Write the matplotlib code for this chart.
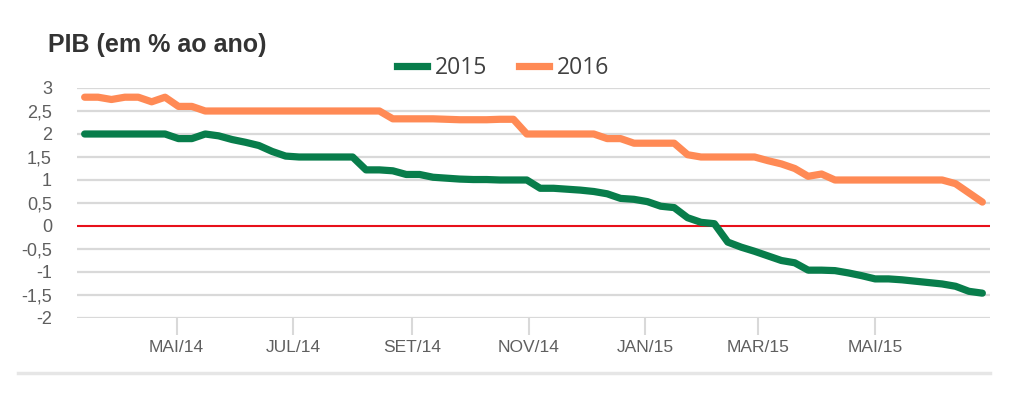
import matplotlib
matplotlib.use("Agg")
import matplotlib.pyplot as plt
import matplotlib.dates as mdates
import numpy as np
import pandas as pd
from matplotlib.lines import Line2D

# ---- data (weekly survey readings) ----
start_date = "2014-03-14"
gdp_2015 = [2.0, 2.0, 2.0, 2.0, 2.0, 2.0, 2.0, 1.9, 1.9, 2.0,
            1.96, 1.88, 1.82, 1.75, 1.62, 1.52, 1.5, 1.5, 1.5, 1.5,
            1.5, 1.22, 1.22, 1.2, 1.12, 1.12, 1.06, 1.04, 1.02, 1.01,
            1.01, 1.0, 1.0, 1.0, 0.82, 0.82, 0.8, 0.78, 0.75, 0.7,
            0.6, 0.58, 0.53, 0.43, 0.4, 0.18, 0.08, 0.05, -0.35, -0.46,
            -0.55, -0.65, -0.75, -0.8, -0.96, -0.96, -0.97, -1.02, -1.08, -1.15,
            -1.15, -1.17, -1.2, -1.23, -1.26, -1.31, -1.42, -1.46]
gdp_2016 = [2.8, 2.8, 2.75, 2.8, 2.8, 2.7, 2.8, 2.6, 2.6, 2.5,
            2.5, 2.5, 2.5, 2.5, 2.5, 2.5, 2.5, 2.5, 2.5, 2.5,
            2.5, 2.5, 2.5, 2.33, 2.33, 2.33, 2.33, 2.32, 2.31, 2.31,
            2.31, 2.32, 2.32, 2.0, 2.0, 2.0, 2.0, 2.0, 2.0, 1.9,
            1.9, 1.8, 1.8, 1.8, 1.8, 1.55, 1.5, 1.5, 1.5, 1.5,
            1.5, 1.42, 1.35, 1.25, 1.08, 1.13, 1.0, 1.0, 1.0, 1.0,
            1.0, 1.0, 1.0, 1.0, 1.0, 0.92, 0.72, 0.52]
series_labels = ["2015", "2016"]
tick_dates = ["2014-05-01", "2014-07-01", "2014-09-01", "2014-11-01",
              "2015-01-01", "2015-03-01", "2015-05-01"]
tick_labels = ["MAI/14", "JUL/14", "SET/14", "NOV/14", "JAN/15", "MAR/15", "MAI/15"]
y_ticks = [-2, -1.5, -1, -0.5, 0, 0.5, 1, 1.5, 2, 2.5, 3]
y_tick_labels = ["-2", "-1,5", "-1", "-0,5", "0", "0,5", "1", "1,5", "2", "2,5", "3"]
title = "PIB (em % ao ano)"

dates = pd.date_range(start_date, periods=len(gdp_2015), freq="7D")

GREEN = "#087d4b"
ORANGE = "#ff8a55"
GRID = "#d9d9d9"
TXT = "#5f5f5f"

fig = plt.figure(figsize=(10.24, 3.94), dpi=100)
ax = fig.add_axes([77/1024, 1-318/394, (990-77)/1024, 230/394])

for s in ax.spines.values():
    s.set_visible(False)

ax.set_ylim(-2, 3)
ax.set_xlim(pd.Timestamp("2014-03-10"), pd.Timestamp("2015-06-30"))

for v in y_ticks:
    if v == 0:
        continue
    ax.axhline(v, color=GRID, lw=1.6, zorder=1)
ax.axhline(0, color="#e8101a", lw=1.5, zorder=2)

ax.plot(dates, gdp_2015, color=GREEN, lw=5.2, solid_capstyle="round",
        solid_joinstyle="round", zorder=3, label=series_labels[0])
ax.plot(dates, gdp_2016, color=ORANGE, lw=5.2, solid_capstyle="round",
        solid_joinstyle="round", zorder=3, label=series_labels[1])

ax.set_yticks(y_ticks)
ax.set_yticklabels(y_tick_labels, family="Liberation Sans", fontsize=13, color=TXT)
ax.tick_params(axis="y", length=0, pad=18)

ax.set_xticks([pd.Timestamp(d) for d in tick_dates])
ax.set_xticklabels(tick_labels, family="Liberation Sans", fontsize=12.5, color=TXT)
ax.tick_params(axis="x", length=12.5, width=1.5, color=GRID, pad=3)

fig.text(48/1024, 1-52/394, title, family="Liberation Sans", fontweight="bold",
         fontsize=18, color="#333333", va="baseline", ha="left")

h1 = Line2D([], [], color=GREEN, lw=5.2)
h2 = Line2D([], [], color=ORANGE, lw=5.2)
leg = fig.legend([h1, h2], series_labels, loc="center", bbox_to_anchor=(503/1024, 1-68/394),
                 ncol=2, frameon=False, prop={"family": "Open Sans", "size": 16.5},
                 handlelength=1.3, handletextpad=0.35, columnspacing=1.4, borderpad=0)
for t in leg.get_texts():
    t.set_color("#404040")

# bottom separator line
fig.add_artist(Line2D([18/1024, 990/1024], [1-373/394, 1-373/394], color="#e6e6e6",
                      lw=2.5, transform=fig.transFigure))

fig.savefig("out.png", dpi=100, facecolor="white")
